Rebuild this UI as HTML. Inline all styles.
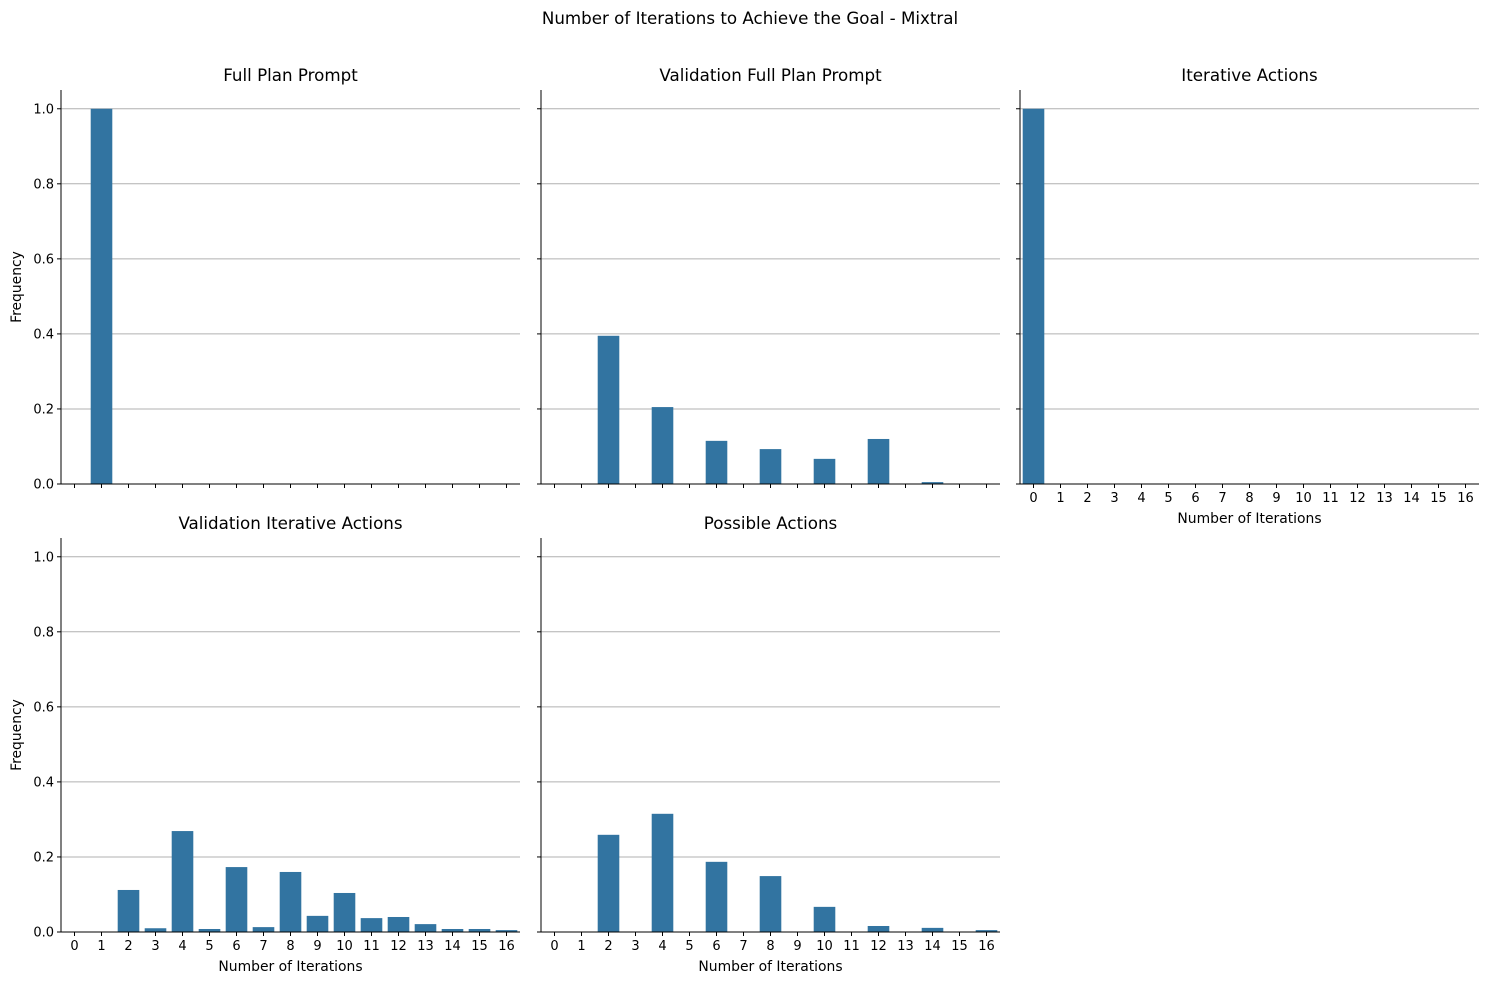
<!DOCTYPE html>
<html><head><meta charset="utf-8"><style>
body{margin:0;background:#fff;font-family:"Liberation Sans","DejaVu Sans",sans-serif}
text{font-family:"DejaVu Sans","Liberation Sans",sans-serif}
</style></head><body>
<svg id="chart" width="1508" height="985" xmlns="http://www.w3.org/2000/svg">
<text x="750" y="24" font-size="16.7" text-anchor="middle">Number of Iterations to Achieve the Goal - Mixtral</text>
</svg>
<script>
const categories=[0,1,2,3,4,5,6,7,8,9,10,11,12,13,14,15,16];
const yTicks=[0,0.2,0.4,0.6,0.8,1.0];
const titles=["Full Plan Prompt","Validation Full Plan Prompt","Iterative Actions","Validation Iterative Actions","Possible Actions"];
const fullPlan=[0,1.0,0,0,0,0,0,0,0,0,0,0,0,0,0,0,0];
const valFullPlan=[0,0,0.395,0,0.205,0,0.115,0,0.093,0,0.067,0,0.12,0,0.005,0,0];
const iterative=[1.0,0,0,0,0,0,0,0,0,0,0,0,0,0,0,0,0];
const valIterative=[0,0,0.112,0.01,0.269,0.008,0.173,0.013,0.16,0.043,0.104,0.037,0.04,0.021,0.008,0.008,0.005];
const possible=[0,0,0.259,0,0.315,0,0.187,0,0.149,0,0.067,0,0.016,0,0.011,0,0.005];
const series=[fullPlan,valFullPlan,iterative,valIterative,possible];
const panels=[{x:61,y:90,yl:true,xl:false},{x:541,y:90,yl:false,xl:false},{x:1020,y:90,yl:false,xl:true},{x:61,y:538,yl:true,xl:true},{x:541,y:538,yl:false,xl:true}];
const W=459,H=394,ymax=1.05;
const svg=document.getElementById('chart');const NS="http://www.w3.org/2000/svg";
function mk(t,a,p){const e=document.createElementNS(NS,t);for(const k in a)e.setAttribute(k,a[k]);(p||svg).appendChild(e);return e;}
panels.forEach((p,i)=>{
 const g=mk('g',{});
 
 
 const band=W/categories.length;
 const xs=c=>p.x+band*(categories.indexOf(c)+0.5);
 const ys=v=>p.y+H-v/ymax*H;
 yTicks.forEach(t=>{
  const l=mk('line',{x1:p.x,x2:p.x+W,y1:ys(t),y2:ys(t),stroke:'#b0b0b0','stroke-width':1},g);
  
  
  mk('line',{x1:p.x-4,x2:p.x,y1:ys(t),y2:ys(t),stroke:'#000'},g);
  if(p.yl){const tx=mk('text',{x:p.x-7,y:ys(t)+4.5,'font-size':13,'text-anchor':'end'},g);tx.textContent=t.toFixed(1);
   
   }
 });
 series[i].forEach((v,j)=>{
  if(v<=0)return;
  const c=categories[j];
  const r=mk('rect',{x:xs(c)-band*0.4,y:ys(v),width:band*0.8,height:ys(0)-ys(v),fill:'#3274a1'},g);
  
  
 });
 categories.forEach(c=>{
  mk('line',{x1:xs(c),x2:xs(c),y1:p.y+H,y2:p.y+H+4,stroke:'#000'},g);
  if(p.xl){const tx=mk('text',{x:xs(c),y:p.y+H+18,'font-size':13,'text-anchor':'middle'},g);tx.textContent=c;
   
   }
 });
 mk('line',{x1:p.x,x2:p.x,y1:p.y,y2:p.y+H,stroke:'#000'},g);
 mk('line',{x1:p.x,x2:p.x+W,y1:p.y+H,y2:p.y+H,stroke:'#000'},g);
 const tt=mk('text',{x:p.x+W/2,y:p.y-9,'font-size':16.7,'text-anchor':'middle'},g);tt.textContent=titles[i];
 
 
 if(p.xl){const xt=mk('text',{x:p.x+W/2,y:p.y+H+39,'font-size':13.9,'text-anchor':'middle'},g);xt.textContent='Number of Iterations';
  
  }
 if(p.yl){const yt=mk('text',{x:0,y:0,'font-size':13.9,'text-anchor':'middle',transform:`translate(21,${p.y+H/2}) rotate(-90)`},g);yt.textContent='Frequency';
  
  }
});
</script>
</body></html>
